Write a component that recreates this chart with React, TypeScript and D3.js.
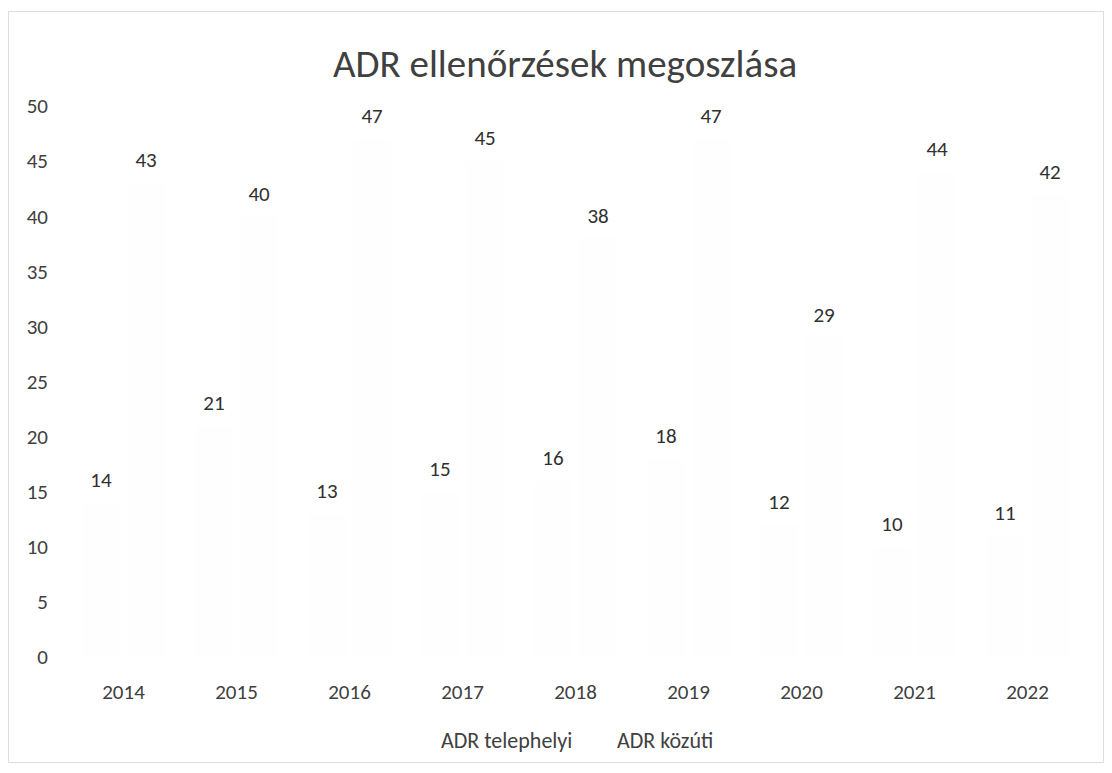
import React, { useEffect, useRef } from "react";
import * as d3 from "d3";

const years = ["2014", "2015", "2016", "2017", "2018", "2019", "2020", "2021", "2022"];
const seriesNames = ["ADR telephelyi", "ADR közúti"];
const telephelyi = [14, 21, 13, 15, 16, 18, 12, 10, 11];
const kozuti = [43, 40, 47, 45, 38, 47, 29, 44, 42];
const yTicks = [0, 5, 10, 15, 20, 25, 30, 35, 40, 45, 50];

const W = 1112;
const H = 773;
const FONT = "Carlito, 'Open Sans', 'Liberation Sans', sans-serif";

const App = () => {
  const svgRef = useRef<SVGSVGElement>(null);

  useEffect(() => {
    document.body.style.margin = "0";
    const svg = d3.select(svgRef.current);
    svg.selectAll("*").remove();

    const margin = { top: 106, right: 28, bottom: 116, left: 67 };
    const x0 = d3
      .scaleBand()
      .domain(years)
      .range([margin.left, W - margin.right])
      .paddingInner(0.2)
      .paddingOuter(0.1);
    const x1 = d3.scaleBand().domain(seriesNames).range([0, x0.bandwidth()]);
    const y = d3.scaleLinear().domain([0, 50]).range([H - margin.bottom, margin.top]);

    // frame
    svg
      .append("rect")
      .attr("x", 8.5)
      .attr("y", 11.5)
      .attr("width", W - 17)
      .attr("height", H - 22)
      .attr("fill", "white")
      .attr("stroke", "#dedede");

    svg
      .append("text")
      .attr("x", 565)
      .attr("y", 77)
      .attr("text-anchor", "middle")
      .attr("font-family", FONT)
      .attr("font-size", 39)
      .attr("fill", "#404040")
      .text("ADR ellenőrzések megoszlása");

    // y axis labels
    svg
      .append("g")
      .selectAll("text")
      .data(yTicks)
      .join("text")
      .attr("x", 48)
      .attr("y", (d) => y(d))
      .attr("dy", "0.35em")
      .attr("text-anchor", "end")
      .attr("font-family", FONT)
      .attr("font-size", 21)
      .attr("fill", "#404040")
      .text((d) => d);

    const rows = years.map((yr, i) => ({ yr, vals: [telephelyi[i], kozuti[i]] }));

    const groups = svg
      .append("g")
      .selectAll("g")
      .data(rows)
      .join("g")
      .attr("transform", (d) => `translate(${x0(d.yr)},0)`);

    // bars faded out in the scan
    groups
      .selectAll("rect")
      .data((d) => d.vals.map((v, j) => ({ v, s: seriesNames[j] })))
      .join("rect")
      .attr("x", (d) => x1(d.s)! + 4)
      .attr("width", x1.bandwidth() - 8)
      .attr("y", (d) => y(d.v))
      .attr("height", (d) => y(0) - y(d.v))
      .attr("fill", "#fefefe");

    groups
      .selectAll("text.val")
      .data((d) => d.vals.map((v, j) => ({ v, s: seriesNames[j] })))
      .join("text")
      .attr("class", "val")
      .attr("x", (d) => x1(d.s)! + x1.bandwidth() / 2)
      .attr("y", (d) => y(d.v) - 23)
      .attr("dy", "0.35em")
      .attr("text-anchor", "middle")
      .attr("font-family", FONT)
      .attr("font-size", 21)
      .attr("fill", "#303030")
      .text((d) => d.v);

    // x axis labels
    svg
      .append("g")
      .selectAll("text")
      .data(years)
      .join("text")
      .attr("x", (d) => x0(d)! + x0.bandwidth() / 2)
      .attr("y", 692)
      .attr("dy", "0.35em")
      .attr("text-anchor", "middle")
      .attr("font-family", FONT)
      .attr("font-size", 21)
      .attr("fill", "#404040")
      .text((d) => d);

    // legend
    const legendX = [441, 617];
    svg
      .append("g")
      .selectAll("text")
      .data(seriesNames)
      .join("text")
      .attr("x", (d, i) => legendX[i])
      .attr("y", 740)
      .attr("dy", "0.35em")
      .attr("font-family", FONT)
      .attr("font-size", 22)
      .attr("fill", "#404040")
      .text((d) => d);
  }, []);

  return <svg ref={svgRef} width={W} height={H} style={{ display: "block" }} />;
};

export default App;
